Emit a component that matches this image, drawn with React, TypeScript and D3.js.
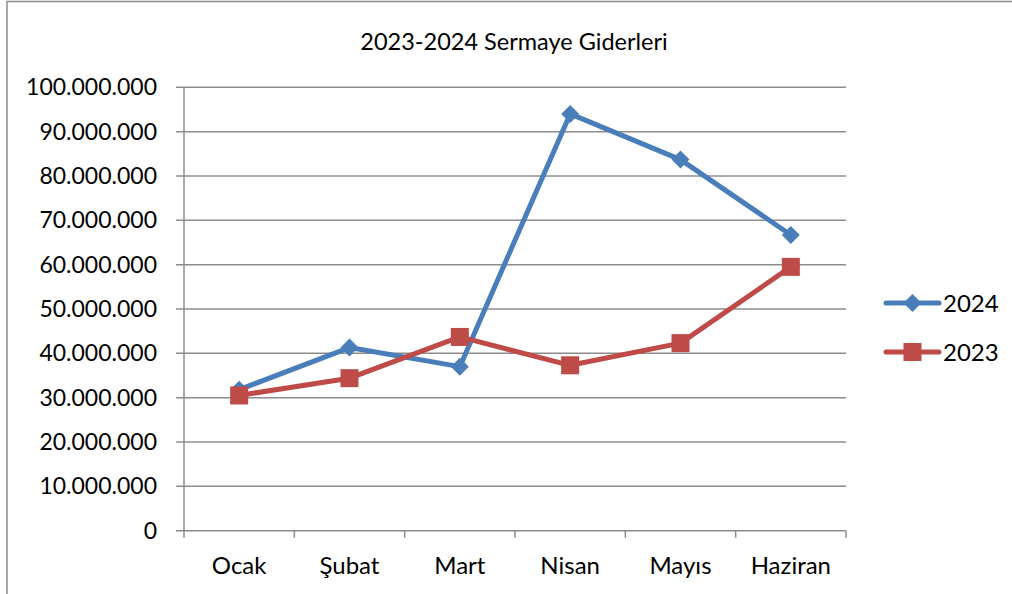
import React from "react";
import * as d3 from "d3";

const categories = ["Ocak", "Şubat", "Mart", "Nisan", "Mayıs", "Haziran"];
const values2024 = [31800000, 41300000, 37000000, 94000000, 83700000, 66700000];
const values2023 = [30500000, 34400000, 43700000, 37300000, 42300000, 59500000];
const yTicks = [0, 10000000, 20000000, 30000000, 40000000, 50000000, 60000000, 70000000, 80000000, 90000000, 100000000];
const title = "2023-2024 Sermaye Giderleri";

const W = 1012, H = 594;
const FONT = "Lato, 'Open Sans', sans-serif";
const BLUE = "#4A7EBB";
const RED = "#BE4B48";

const fmt = (v: number) => (v === 0 ? "0" : d3.format(",")(v).replace(/,/g, "."));

export default function App() {
  const left = 184, right = 846, top = 87.3, bottom = 530.7;
  const x = d3.scaleBand<string>().domain(categories).range([left, right]).paddingInner(0).paddingOuter(0);
  const y = d3.scaleLinear().domain([0, 100000000]).range([bottom, top]);
  const cx = (c: string) => (x(c) as number) + x.bandwidth() / 2;
  const line = d3.line<number>().x((_, i) => cx(categories[i])).y((d) => y(d));
  const boundaries = categories.map((c) => x(c) as number).concat([right]);

  const diamond = (px: number, py: number, s: number) =>
    `M${px},${py - s} L${px + s},${py} L${px},${py + s} L${px - s},${py} Z`;

  return (
    <svg width={W} height={H} style={{ position: "absolute", left: 0, top: 0 }} fontFamily={FONT}>
      <rect x={0} y={0} width={W} height={H} fill="#fff" />
      <rect x={7} y={1.5} width={W + 20} height={H + 20} fill="none" stroke="#8c8c8c" strokeWidth={1.5} />
      <text x={514} y={50} textAnchor="middle" fontSize={23.5} fill="#000">{title}</text>
      {yTicks.map((t) => (
        <g key={t}>
          <line x1={left - 8} x2={right} y1={y(t)} y2={y(t)} stroke="#8c8c8c" strokeWidth={1.5} />
          <text x={157} y={y(t) + 8} textAnchor="end" fontSize={23} fill="#000">{fmt(t)}</text>
        </g>
      ))}
      <line x1={left} x2={left} y1={top} y2={bottom} stroke="#8c8c8c" strokeWidth={1.5} />
      {boundaries.map((b, i) => (
        <line key={i} x1={b} x2={b} y1={bottom} y2={bottom + 7} stroke="#8c8c8c" strokeWidth={1.5} />
      ))}
      {categories.map((c) => (
        <text key={c} x={cx(c)} y={574} textAnchor="middle" fontSize={24} fill="#000">{c}</text>
      ))}
      <path d={line(values2024) || ""} fill="none" stroke={BLUE} strokeWidth={5} strokeLinejoin="round" strokeLinecap="round" />
      {values2024.map((v, i) => (
        <path key={i} d={diamond(cx(categories[i]), y(v), 9)} fill={BLUE} />
      ))}
      <path d={line(values2023) || ""} fill="none" stroke={RED} strokeWidth={5} strokeLinejoin="round" strokeLinecap="round" />
      {values2023.map((v, i) => (
        <rect key={i} x={cx(categories[i]) - 9} y={y(v) - 9} width={18} height={18} fill={RED} />
      ))}
      <g>
        <line x1={886} x2={939} y1={303} y2={303} stroke={BLUE} strokeWidth={5} strokeLinecap="round" />
        <path d={diamond(912.5, 303, 9)} fill={BLUE} />
        <text x={943} y={312} fontSize={24} fill="#000">2024</text>
        <line x1={886} x2={939} y1={352} y2={352} stroke={RED} strokeWidth={5} strokeLinecap="round" />
        <rect x={903.5} y={343} width={18} height={18} fill={RED} />
        <text x={943} y={361} fontSize={24} fill="#000">2023</text>
      </g>
    </svg>
  );
}
